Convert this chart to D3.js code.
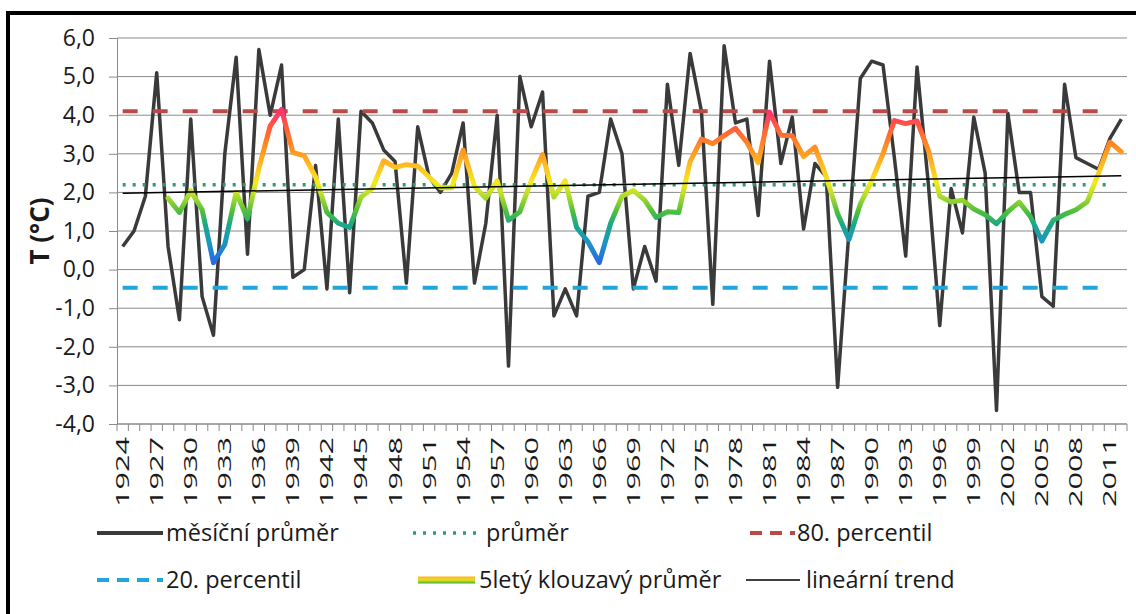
<!DOCTYPE html>
<html>
<head>
<meta charset="utf-8">
<script src="https://cdn.jsdelivr.net/npm/d3@7"></script>
<style>
  html, body { margin: 0; padding: 0; background: #fff; }
  svg { display: block; }
  text { font-family: "Open Sans", "DejaVu Sans", sans-serif; fill: #1a1a1a; }
</style>
</head>
<body>
<svg id="chart" width="1136" height="614"></svg>
<script>
// Years on the category axis
const years = d3.range(1924, 2013);

// Monthly mean temperature per year (°C)
const monthlyMean = [
  0.6, 1.0, 1.9, 5.1, 0.6, -1.3, 3.9, -0.7, -1.7, 3.0,
  5.5, 0.4, 5.7, 4.0, 5.3, -0.2, 0.0, 2.7, -0.5, 3.9,
  -0.6, 4.1, 3.8, 3.1, 2.8, -0.35, 3.7, 2.4, 2.0, 2.5,
  3.8, -0.35, 1.2, 4.0, -2.5, 5.0, 3.7, 4.6, -1.2, -0.5,
  -1.2, 1.9, 2.0, 3.9, 3.0, -0.5, 0.6, -0.3, 4.8, 2.7,
  5.6, 4.1, -0.9, 5.8, 3.8, 3.9, 1.4, 5.4, 2.75, 3.95,
  1.05, 2.75, 2.4, -3.05, 1.0, 4.95, 5.4, 5.3, 2.9, 0.35,
  5.25, 2.2, -1.45, 2.1, 0.95, 3.95, 2.5, -3.65, 4.05, 2.0,
  2.0, -0.7, -0.95, 4.8, 2.9, 2.75, 2.6, 3.4, 3.9
];

// 5-year moving average, 1928–2012
const movingAvgYears = d3.range(1928, 2013);
const movingAvg = [
  1.85, 1.48, 2.04, 1.55, 0.18, 0.65, 2.0, 1.32, 2.62, 3.72,
  4.15, 3.03, 2.95, 2.4, 1.48, 1.2, 1.09, 1.88, 2.1, 2.82,
  2.65, 2.72, 2.68, 2.4, 2.12, 2.12, 3.1, 2.15, 1.85, 2.3,
  1.28, 1.5, 2.3, 2.98, 1.88, 2.3, 1.09, 0.72, 0.18, 1.2,
  1.9, 2.05, 1.8, 1.35, 1.5, 1.48, 2.8, 3.38, 3.26, 3.47,
  3.66, 3.3, 2.77, 4.08, 3.48, 3.47, 2.93, 3.17, 2.4, 1.45,
  0.78, 1.7, 2.3, 3.0, 3.86, 3.78, 3.85, 3.08, 1.9, 1.75,
  1.8, 1.57, 1.42, 1.19, 1.5, 1.75, 1.37, 0.74, 1.28, 1.43,
  1.55, 1.76, 2.5, 3.3, 3.05
];

// Reference levels (°C), drawn 1924–2011
const refYears = [1924, 2011];
const overallMean = 2.2;
const percentile80 = 4.1;
const percentile20 = -0.47;

// Linear trend at the first and last year
const trendYears = [1924, 2012];
const trendValues = [1.98, 2.43];

// Axis ticks
const yTicks = d3.range(-4, 7);
const xLabelYears = d3.range(1924, 2013, 3);

const legendLabels = ["měsíční průměr", "průměr", "80. percentil",
                      "20. percentil", "5letý klouzavý průměr", "lineární trend"];

const svg = d3.select("#chart");
const W = 1136, H = 614;
const plot = { left: 117, right: 1127, top: 38, bottom: 424 };

svg.append("rect").attr("width", W).attr("height", H).attr("fill", "#fff");

const x = d3.scaleBand().domain(years).range([plot.left, plot.right]).padding(0);
const cx = yr => x(yr) + x.bandwidth() / 2;
const y = d3.scaleLinear().domain([-4, 6]).range([plot.bottom, plot.top]);

const fmt = v => (v < 0 ? "-" : "") + Math.abs(v).toFixed(1).replace(".", ",");

// Horizontal gridlines
svg.append("g").selectAll("line").data(yTicks).join("line")
  .attr("x1", plot.left).attr("x2", plot.right)
  .attr("y1", d => y(d)).attr("y2", d => y(d))
  .attr("stroke", "#8a8a8a").attr("stroke-width", 1);

// Y axis
const yAxis = svg.append("g").attr("transform", `translate(${plot.left},0)`)
  .call(d3.axisLeft(y).tickValues(yTicks).tickSize(8).tickPadding(14).tickFormat(fmt));
yAxis.select(".domain").attr("stroke", "#8a8a8a");
yAxis.selectAll(".tick line").attr("stroke", "#8a8a8a");
yAxis.selectAll(".tick text")
  .attr("font-size", 23).attr("font-family", "Open Sans, sans-serif").attr("fill", "#1a1a1a");

// X axis: tick marks between categories
const xTickPos = years.map(d => x(d)).concat([plot.right]);
svg.append("line").attr("x1", plot.left).attr("x2", plot.right)
  .attr("y1", plot.bottom).attr("y2", plot.bottom).attr("stroke", "#8a8a8a");
svg.append("g").selectAll("line").data(xTickPos).join("line")
  .attr("x1", d => d).attr("x2", d => d)
  .attr("y1", plot.bottom).attr("y2", plot.bottom + 7)
  .attr("stroke", "#8a8a8a");
svg.append("g").selectAll("text").data(xLabelYears).join("text")
  .attr("transform", d => `translate(${cx(d) + 6.5},${plot.bottom + 13}) rotate(-90)`)
  .attr("text-anchor", "end")
  .attr("font-size", 19).attr("font-weight", 500)
  .attr("textLength", 70).attr("lengthAdjust", "spacingAndGlyphs")
  .text(d => d);

// Y axis title
svg.append("text")
  .attr("transform", `translate(49,${(plot.top + plot.bottom) / 2}) rotate(-90)`)
  .attr("text-anchor", "middle").attr("font-size", 26).attr("font-weight", 700)
  .text("T (°C)");

// Colour ramp of the moving average, keyed to temperature
const rampStops = [
  [0.1, "#2a62e6"], [0.7, "#1c95c4"], [1.15, "#19a88a"], [1.5, "#4cbf3c"],
  [1.95, "#b9df2a"], [2.25, "#f3ea1e"], [2.7, "#ffbc22"], [3.2, "#ff8a22"],
  [3.7, "#ff5a3c"], [4.15, "#ff2e76"]
];
const defs = svg.append("defs");
const grad = defs.append("linearGradient").attr("id", "maGrad")
  .attr("gradientUnits", "userSpaceOnUse")
  .attr("x1", 0).attr("x2", 0).attr("y1", y(0.1)).attr("y2", y(4.15));
grad.selectAll("stop").data(rampStops).join("stop")
  .attr("offset", d => (d[0] - 0.1) / (4.15 - 0.1))
  .attr("stop-color", d => d[1]);

const line = d3.line().x(d => cx(d[0])).y(d => y(d[1]));
const refLine = v => line(refYears.map(yr => [yr, v]));

// Monthly mean series
svg.append("path").attr("d", line(years.map((yr, i) => [yr, monthlyMean[i]])))
  .attr("fill", "none").attr("stroke", "#3a3a3a").attr("stroke-width", 3.5)
  .attr("stroke-linejoin", "round");

// Overall mean (dotted)
svg.append("path").attr("d", refLine(overallMean))
  .attr("fill", "none").attr("stroke", "#2f9a6c").attr("stroke-width", 3.5)
  .attr("stroke-dasharray", "3,7");

// 80th percentile (dashed)
svg.append("path").attr("d", refLine(percentile80))
  .attr("fill", "none").attr("stroke", "#b94a48").attr("stroke-width", 4)
  .attr("stroke-dasharray", "15,15");

// 20th percentile (dashed)
svg.append("path").attr("d", refLine(percentile20))
  .attr("fill", "none").attr("stroke", "#22a5dc").attr("stroke-width", 4)
  .attr("stroke-dasharray", "15,15");

// 5-year moving average
svg.append("path").attr("d", line(movingAvgYears.map((yr, i) => [yr, movingAvg[i]])))
  .attr("fill", "none").attr("stroke", "url(#maGrad)").attr("stroke-width", 5)
  .attr("stroke-linejoin", "round").attr("stroke-linecap", "round");

// Linear trend
svg.append("path").attr("d", line(trendYears.map((yr, i) => [yr, trendValues[i]])))
  .attr("fill", "none").attr("stroke", "#000").attr("stroke-width", 1.5);

// Legend
const lg = svg.append("g");
const items = [
  { x1: 97, x2: 163, y: 533, tx: 166, kind: "solid" },
  { x1: 413, x2: 478, y: 533, tx: 486, kind: "dot" },
  { x1: 750, x2: 795, y: 533, tx: 797, kind: "dash80" },
  { x1: 97, x2: 163, y: 580, tx: 166, kind: "dash20" },
  { x1: 418, x2: 475, y: 580, tx: 479, kind: "ma" },
  { x1: 746, x2: 800, y: 580, tx: 806, kind: "trend" }
];
const mgrad = defs.append("linearGradient").attr("id", "maLegend")
  .attr("x1", 0).attr("x2", 0).attr("y1", 0).attr("y2", 1);
mgrad.append("stop").attr("offset", 0).attr("stop-color", "#ffb020");
mgrad.append("stop").attr("offset", 0.5).attr("stop-color", "#e8e020");
mgrad.append("stop").attr("offset", 1).attr("stop-color", "#3fb040");

items.forEach((it, i) => {
  if (it.kind === "ma") {
    lg.append("rect").attr("x", it.x1).attr("y", it.y - 3.5).attr("width", it.x2 - it.x1)
      .attr("height", 7).attr("fill", "url(#maLegend)");
  } else {
    const l = lg.append("line").attr("x1", it.x1).attr("x2", it.x2)
      .attr("y1", it.y).attr("y2", it.y);
    if (it.kind === "solid") l.attr("stroke", "#3a3a3a").attr("stroke-width", 4);
    if (it.kind === "dot") l.attr("stroke", "#2f9a6c").attr("stroke-width", 3.5).attr("stroke-dasharray", "3,7");
    if (it.kind === "dash80") l.attr("stroke", "#b94a48").attr("stroke-width", 4).attr("stroke-dasharray", "12,8");
    if (it.kind === "dash20") l.attr("stroke", "#22a5dc").attr("stroke-width", 4).attr("stroke-dasharray", "12,8");
    if (it.kind === "trend") l.attr("stroke", "#000").attr("stroke-width", 1.5);
  }
  lg.append("text").attr("x", it.tx).attr("y", it.y).attr("dy", "0.35em")
    .attr("font-size", 23.5).text(legendLabels[i]);
});

// Outer frame
svg.append("rect").attr("x", 8).attr("y", 13).attr("width", W + 20).attr("height", H + 20)
  .attr("fill", "none").attr("stroke", "#000").attr("stroke-width", 4);
</script>
</body>
</html>
